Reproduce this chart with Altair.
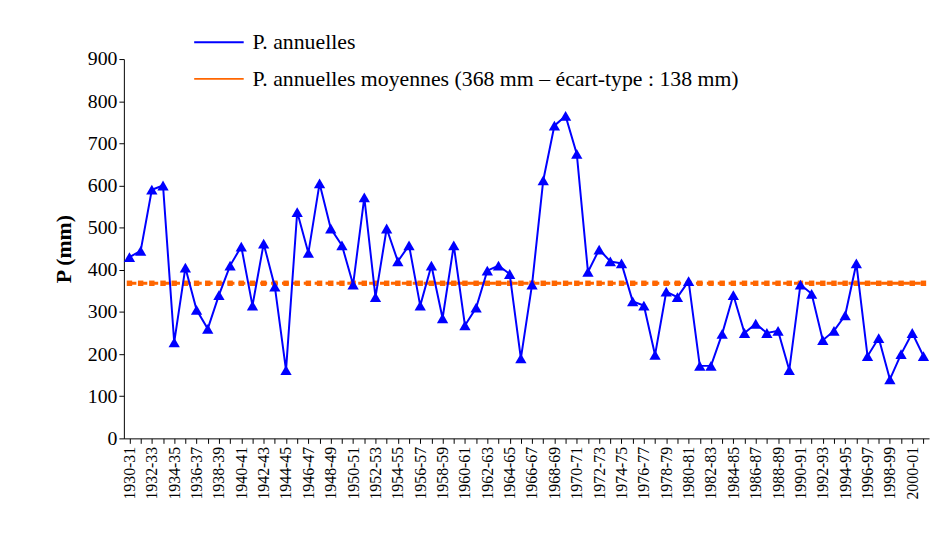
import altair as alt
import pandas as pd

start_years = list(range(1930, 2002))
annees = [f"{y}-{str(y + 1)[-2:]}" for y in start_years]

p_annuelles = [
    430, 445, 590, 600, 228, 405, 305, 260, 340, 410,
    455, 315, 462, 360, 162, 537, 440, 605, 498, 458,
    365, 572, 335, 498, 420, 458, 315, 410, 285, 458,
    268, 310, 398, 410, 390, 190, 365, 612, 742, 765,
    675, 395, 448, 420, 415, 325, 315, 198, 348, 335,
    373, 172, 172, 248, 340, 250, 272, 250, 255, 162,
    365, 343, 233, 255, 292, 415, 195, 238, 140, 200,
    250, 195,
]
moyenne = 368

serie_1 = "P. annuelles"
serie_2 = "P. annuelles moyennes (368 mm – écart-type : 138 mm)"

df = pd.DataFrame(
    {
        "annee": annees * 2,
        "p": p_annuelles + [moyenne] * len(annees),
        "serie": [serie_1] * len(annees) + [serie_2] * len(annees),
    }
)

FONT = "Liberation Serif"

color = alt.Color(
    "serie:N",
    scale=alt.Scale(domain=[serie_1, serie_2], range=["#0000ff", "#ff6600"]),
    legend=alt.Legend(
        title=None,
        orient="none",
        legendX=70,
        legendY=-43,
        labelFont=FONT,
        labelFontSize=22,
        labelColor="black",
        labelLimit=0,
        symbolType="stroke",
        symbolSize=2500,
        symbolStrokeWidth=2,
        labelOffset=8,
        rowPadding=-8,
    ),
)

x = alt.X(
    "annee:O",
    sort=annees,
    title=None,
    scale=alt.Scale(padding=0.5),
    axis=alt.Axis(
        labelAngle=-90,
        labelExpr="indexof(['" + "','".join(annees[::2]) + "'], datum.value) >= 0 ? datum.value : ''",
        labelFont=FONT,
        labelFontSize=16,
        labelColor="black",
        labelOverlap=False,
        domainColor="black",
        tickColor="black",
        labelPadding=3,
    ),
)

y = alt.Y(
    "p:Q",
    title="P (mm)",
    scale=alt.Scale(domain=[0, 900]),
    axis=alt.Axis(
        values=list(range(0, 901, 100)),
        grid=False,
        titleFont=FONT,
        titleFontSize=22,
        titleFontWeight="bold",
        titleColor="black",
        labelFont=FONT,
        labelFontSize=20,
        labelColor="black",
        domainColor="black",
        tickColor="black",
        titlePadding=12,
    ),
)

base = alt.Chart(df).encode(x=x, y=y, color=color)

mean_line = base.transform_filter(alt.datum.serie == serie_2).mark_line(
    strokeWidth=3, strokeDash=[7, 4]
)
mean_pts = base.transform_filter(alt.datum.serie == serie_2).mark_point(
    shape="square", filled=True, size=30, opacity=1
)
p_line = base.transform_filter(alt.datum.serie == serie_1).mark_line(strokeWidth=2)
p_pts = base.transform_filter(alt.datum.serie == serie_1).mark_point(
    shape="triangle-up", filled=True, size=130, opacity=1
)

chart = (
    alt.layer(mean_line, mean_pts, p_line, p_pts)
    .properties(
        width=813,
        height=383,
        autosize=alt.AutoSizeParams(type="none"),
        padding={"left": 117, "top": 49, "right": 4, "bottom": 94},
    )
    .configure_view(strokeWidth=0)
)

chart.save("out.html", embed_options={"renderer": "svg", "actions": False})
